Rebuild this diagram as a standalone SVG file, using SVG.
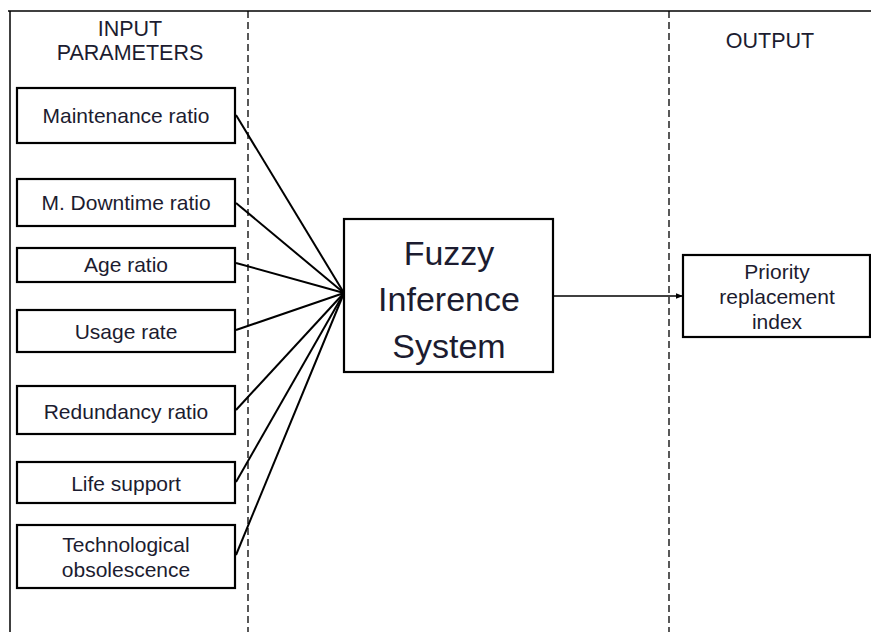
<svg xmlns="http://www.w3.org/2000/svg" width="871" height="632" viewBox="0 0 871 632">
<style>
text{font-family:"Liberation Sans",Arial,sans-serif;fill:#1c1c30;text-anchor:middle}
.box{fill:#fff;stroke:#000;stroke-width:2.2}
.lbl{font-size:21px}
.hdr{font-size:21.5px}
.dash{stroke:#000;stroke-width:1.3;stroke-dasharray:7,4;fill:none}
.con{stroke:#000;stroke-width:2;fill:none}
</style>
<defs>
<marker id="arr" viewBox="0 0 10 10" refX="10" refY="5" markerWidth="7" markerHeight="7" orient="auto" markerUnits="userSpaceOnUse">
<path d="M0,1 L10,5 L0,9 z" fill="#000"/>
</marker>
</defs>
<rect width="871" height="632" fill="#fff"/>
<g id="frame">
<line x1="8" y1="11" x2="871" y2="11" stroke="#000" stroke-width="1.5"/>
<line x1="10" y1="11" x2="10" y2="632" stroke="#000" stroke-width="1.5"/>
<line class="dash" x1="248" y1="11" x2="248" y2="632"/>
<line class="dash" x1="669" y1="11" x2="669" y2="632"/>
<text class="hdr" x="130" y="36">INPUT</text>
<text class="hdr" x="130" y="60">PARAMETERS</text>
<text class="hdr" x="770" y="48">OUTPUT</text>
</g>
<g id="connectors">
<line class="con" x1="236" y1="115" x2="344" y2="293"/>
<line class="con" x1="236" y1="203" x2="344" y2="293"/>
<line class="con" x1="236" y1="263" x2="344" y2="293"/>
<line class="con" x1="236" y1="330" x2="344" y2="293"/>
<line class="con" x1="236" y1="410" x2="344" y2="293"/>
<line class="con" x1="236" y1="482" x2="344" y2="293"/>
<line class="con" x1="236" y1="555" x2="344" y2="293"/>
<line x1="553" y1="296" x2="683" y2="296" stroke="#000" stroke-width="1.5" marker-end="url(#arr)"/>
</g>
<g id="n1"><rect class="box" x="17" y="88" width="218" height="55"/><text class="lbl" x="126" y="123">Maintenance ratio</text></g>
<g id="n2"><rect class="box" x="17" y="179" width="218" height="47"/><text class="lbl" x="126" y="210">M. Downtime ratio</text></g>
<g id="n3"><rect class="box" x="17" y="248" width="218" height="34"/><text class="lbl" x="126" y="272">Age ratio</text></g>
<g id="n4"><rect class="box" x="17" y="310" width="218" height="42"/><text class="lbl" x="126" y="339">Usage rate</text></g>
<g id="n5"><rect class="box" x="17" y="386" width="218" height="48"/><text class="lbl" x="126" y="419">Redundancy ratio</text></g>
<g id="n6"><rect class="box" x="17" y="462" width="218" height="41"/><text class="lbl" x="126" y="491">Life support</text></g>
<g id="n7"><rect class="box" x="17" y="525" width="218" height="63"/><text class="lbl" x="126" y="552">Technological</text><text class="lbl" x="126" y="577">obsolescence</text></g>
<g id="fis"><rect class="box" x="344" y="219" width="209" height="153"/><text x="449" y="265" font-size="34">Fuzzy</text><text x="449" y="311" font-size="34">Inference</text><text x="449" y="358" font-size="34">System</text></g>
<g id="out"><rect class="box" x="683" y="255" width="187" height="82"/><text class="lbl" x="777" y="279">Priority</text><text class="lbl" x="777" y="304">replacement</text><text class="lbl" x="777" y="329">index</text></g>
</svg>
